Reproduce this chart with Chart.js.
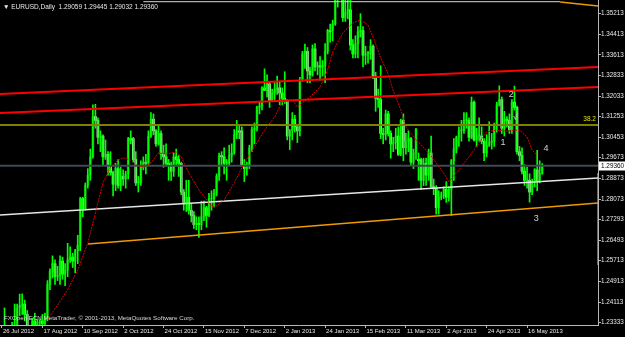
<!DOCTYPE html>
<html><head><meta charset="utf-8">
<script src="https://cdn.jsdelivr.net/npm/chart.js@4/dist/chart.umd.min.js"></script>
<style>html,body{margin:0;padding:0;background:#000;overflow:hidden}#wrap{width:625px;height:337px}</style>
</head><body><div id="wrap"><canvas id="c" width="625" height="337"></canvas></div>
<script>
const chartTitle = "\u25BC EURUSD,Daily  1.29059 1.29445 1.29032 1.29360";
const copyrightText = "FXOpen ECN MetaTrader, \u00A9 2001-2013, MetaQuotes Software Corp.";
const dateLabels = ["26 Jul 2012","17 Aug 2012","10 Sep 2012","2 Oct 2012","24 Oct 2012","15 Nov 2012","7 Dec 2012","2 Jan 2013","24 Jan 2013","15 Feb 2013","11 Mar 2013","2 Apr 2013","24 Apr 2013","16 May 2013"];
const dateLabelBars = [0,16,32,48,64,80,96,112,128,144,160,176,192,208];
const priceTicks = [1.35213,1.34413,1.33613,1.32833,1.32033,1.31253,1.30453,1.29673,1.28873,1.28073,1.27293,1.26493,1.25713,1.24913,1.24113,1.23333];
const lastClose = 1.29360;

const opens = [1.2160,1.2290,1.2310,1.2262,1.2305,1.2210,1.2170,1.2390,1.2400,1.2405,1.2365,1.2280,1.2290,1.2340,1.2320,1.2335,1.2340,1.2330,1.2350,1.2480,
1.2530,1.2560,1.2510,1.2515,1.2570,1.2520,1.2535,1.2575,1.2585,1.2570,1.2610,1.2630,1.2810,1.2770,1.2860,1.2900,1.2970,1.3125,1.3110,1.3045,
1.3050,1.2970,1.2980,1.2935,1.2910,1.2865,1.2925,1.2860,1.2895,1.2885,1.2905,1.3040,1.3040,1.2960,1.2870,1.2870,1.2930,1.2950,1.2945,1.3050,
1.3115,1.3070,1.3020,1.3060,1.2980,1.2970,1.2945,1.2940,1.2915,1.2970,1.2960,1.2945,1.2835,1.2795,1.2815,1.2765,1.2745,1.2710,1.2715,1.2710,
1.2740,1.2775,1.2745,1.2810,1.2810,1.2830,1.2895,1.2975,1.2970,1.2945,1.2945,1.2975,1.2985,1.3055,1.3070,1.3070,1.2940,1.2925,1.2935,1.3005,
1.3075,1.3080,1.3160,1.3165,1.3235,1.3225,1.3250,1.3185,1.3215,1.3230,1.3235,1.3215,1.3195,1.3185,1.3050,1.3070,1.3115,1.3085,1.3070,1.3265,
1.3365,1.3375,1.3300,1.3285,1.3385,1.3315,1.3320,1.3315,1.3320,1.3375,1.3455,1.3455,1.3480,1.3575,1.3580,1.3640,1.3505,1.3525,1.3535,1.3400,
1.3365,1.3405,1.3450,1.3455,1.3360,1.3365,1.3365,1.3395,1.3280,1.3195,1.3190,1.3060,1.3055,1.3135,1.3060,1.3020,1.3025,1.3050,1.2980,1.3110,
1.3005,1.3030,1.3040,1.2950,1.2985,1.2960,1.2960,1.2880,1.2945,1.2900,1.2985,1.2855,1.2850,1.2775,1.2815,1.2820,1.2845,1.2815,1.2845,1.2955,
1.3000,1.3045,1.3070,1.3070,1.3110,1.3110,1.3045,1.3180,1.3035,1.3050,1.3050,1.3030,1.2985,1.3015,1.3025,1.3030,1.3090,1.3170,1.3190,1.3080,
1.3115,1.3110,1.3075,1.3180,1.3160,1.2990,1.2975,1.2915,1.2880,1.2880,1.2835,1.2870,1.2920,1.2875,1.29059];
const highs = [1.2317,1.2390,1.2320,1.2320,1.2335,1.2405,1.2405,1.2443,1.2444,1.2420,1.2380,1.2300,1.2350,1.2370,1.2345,1.2345,1.2365,1.2370,1.2495,1.2540,
1.2590,1.2575,1.2550,1.2590,1.2585,1.2560,1.2638,1.2625,1.2600,1.2615,1.2669,1.2815,1.2815,1.2870,1.2925,1.3000,1.3170,1.3172,1.3120,1.3070,
1.3055,1.3035,1.2990,1.2990,1.2915,1.2945,1.2960,1.2930,1.2920,1.2915,1.3045,1.3070,1.3045,1.2990,1.2895,1.2955,1.2970,1.2980,1.3070,1.3140,
1.3135,1.3075,1.3090,1.3070,1.3015,1.3020,1.2960,1.2950,1.2985,1.3000,1.2975,1.2950,1.2845,1.2880,1.2880,1.2790,1.2760,1.2740,1.2740,1.2800,
1.2800,1.2780,1.2830,1.2840,1.2845,1.2905,1.2985,1.2990,1.3005,1.2960,1.3015,1.3020,1.3075,1.3110,1.3095,1.3085,1.2960,1.2950,1.3015,1.3085,
1.3100,1.3165,1.3180,1.3240,1.3308,1.3285,1.3260,1.3230,1.3255,1.3280,1.3260,1.3235,1.3297,1.3190,1.3075,1.3140,1.3130,1.3095,1.3275,1.3375,
1.3403,1.3390,1.3315,1.3400,1.3405,1.3335,1.3355,1.3340,1.3405,1.3460,1.3480,1.3495,1.3585,1.3605,1.3711,1.3650,1.3580,1.3585,1.3575,1.3420,
1.3435,1.3470,1.3520,1.3470,1.3395,1.3375,1.3420,1.3400,1.3295,1.3230,1.3320,1.3080,1.3150,1.3145,1.3070,1.3045,1.3080,1.3085,1.3115,1.3135,
1.3060,1.3070,1.3045,1.3000,1.3080,1.2985,1.2965,1.2965,1.2965,1.3000,1.3050,1.2885,1.2860,1.2840,1.2835,1.2855,1.2875,1.2855,1.2960,1.3040,
1.3050,1.3085,1.3110,1.3140,1.3140,1.3120,1.3200,1.3185,1.3080,1.3120,1.3085,1.3040,1.3055,1.3105,1.3060,1.3100,1.3180,1.3243,1.3200,1.3145,
1.3125,1.3135,1.3190,1.3242,1.3165,1.3010,1.3005,1.2940,1.2930,1.2905,1.2885,1.2925,1.2995,1.2955,1.29445];
const lows = [1.2130,1.2255,1.2240,1.2240,1.2200,1.2133,1.2165,1.2360,1.2365,1.2340,1.2265,1.2240,1.2270,1.2290,1.2240,1.2290,1.2290,1.2300,1.2340,1.2460,
1.2505,1.2480,1.2495,1.2480,1.2500,1.2475,1.2510,1.2565,1.2545,1.2525,1.2560,1.2610,1.2740,1.2765,1.2850,1.2880,1.2965,1.3080,1.3020,1.2990,
1.2935,1.2960,1.2900,1.2900,1.2820,1.2840,1.2850,1.2840,1.2860,1.2850,1.2885,1.3020,1.2950,1.2860,1.2835,1.2860,1.2920,1.2905,1.2935,1.3045,
1.3055,1.3010,1.3015,1.2960,1.2930,1.2935,1.2880,1.2880,1.2895,1.2935,1.2895,1.2825,1.2765,1.2760,1.2750,1.2720,1.2695,1.2690,1.2661,1.2690,
1.2725,1.2700,1.2740,1.2765,1.2780,1.2820,1.2880,1.2940,1.2905,1.2880,1.2935,1.2950,1.2980,1.3040,1.3040,1.2935,1.2875,1.2900,1.2925,1.2990,
1.3020,1.3070,1.3135,1.3150,1.3225,1.3200,1.3160,1.3185,1.3190,1.3210,1.3170,1.3170,1.3175,1.3035,1.2998,1.3035,1.3065,1.3025,1.3050,1.3260,
1.3310,1.3255,1.3255,1.3280,1.3300,1.3285,1.3265,1.3280,1.3255,1.3365,1.3410,1.3415,1.3475,1.3545,1.3575,1.3490,1.3490,1.3500,1.3380,1.3350,
1.3350,1.3350,1.3430,1.3315,1.3325,1.3330,1.3345,1.3270,1.3145,1.3160,1.3040,1.3020,1.3035,1.3050,1.2965,1.2990,1.3000,1.2975,1.2975,1.2955,
1.2980,1.2990,1.2940,1.2925,1.2960,1.2880,1.2845,1.2860,1.2860,1.2880,1.2850,1.2825,1.2750,1.2750,1.2805,1.2810,1.2795,1.2800,1.2745,1.2880,
1.2985,1.3010,1.3030,1.3060,1.3080,1.3030,1.3040,1.3030,1.3010,1.3030,1.3020,1.2955,1.2970,1.3010,1.3000,1.3010,1.3065,1.3165,1.3060,1.3050,
1.3085,1.3060,1.3060,1.3150,1.2980,1.2955,1.2905,1.2860,1.2850,1.2796,1.2825,1.2855,1.2840,1.2870,1.29032];
const closes = [1.2290,1.2310,1.2262,1.2305,1.2210,1.2170,1.2390,1.2400,1.2405,1.2365,1.2280,1.2290,1.2340,1.2320,1.2335,1.2340,1.2330,1.2350,1.2480,1.2530,
1.2560,1.2510,1.2515,1.2570,1.2520,1.2535,1.2575,1.2585,1.2570,1.2610,1.2630,1.2810,1.2770,1.2860,1.2900,1.2970,1.3125,1.3110,1.3045,1.3050,
1.2970,1.2980,1.2935,1.2910,1.2865,1.2925,1.2860,1.2895,1.2885,1.2905,1.3040,1.3035,1.2960,1.2870,1.2875,1.2930,1.2950,1.2945,1.3050,1.3115,
1.3070,1.3020,1.3060,1.2980,1.2970,1.2945,1.2940,1.2915,1.2970,1.2960,1.2945,1.2835,1.2795,1.2815,1.2765,1.2745,1.2710,1.2715,1.2710,1.2740,
1.2775,1.2745,1.2810,1.2810,1.2830,1.2895,1.2975,1.2970,1.2945,1.2950,1.2975,1.2985,1.3055,1.3070,1.3065,1.2940,1.2925,1.2935,1.3005,1.3075,
1.3080,1.3160,1.3165,1.3235,1.3225,1.3250,1.3185,1.3215,1.3230,1.3235,1.3215,1.3195,1.3185,1.3050,1.3070,1.3115,1.3085,1.3070,1.3265,1.3365,
1.3375,1.3300,1.3285,1.3385,1.3315,1.3320,1.3315,1.3320,1.3375,1.3455,1.3450,1.3480,1.3575,1.3580,1.3640,1.3505,1.3525,1.3535,1.3400,1.3365,
1.3405,1.3450,1.3455,1.3360,1.3365,1.3370,1.3395,1.3280,1.3195,1.3190,1.3060,1.3055,1.3135,1.3060,1.3020,1.3025,1.3050,1.2980,1.3110,1.3005,
1.3030,1.3040,1.2950,1.2985,1.3075,1.2955,1.2880,1.2945,1.2900,1.2985,1.2855,1.2850,1.2775,1.2815,1.2820,1.2845,1.2815,1.2845,1.2955,1.3000,
1.3045,1.3070,1.3075,1.3110,1.3115,1.3045,1.3180,1.3035,1.3050,1.3055,1.3030,1.2985,1.3015,1.3025,1.3030,1.3090,1.3170,1.3190,1.3080,1.3115,
1.3110,1.3075,1.3180,1.3160,1.2990,1.2975,1.2915,1.2880,1.2885,1.2835,1.2870,1.2920,1.2875,1.2906,1.29360];

const maBars = [18,26,30,34,38,40,43,46,48,51,53,56,59,62,65,69,71,74,78,82,84,88,92,96,100,104,108,111,115,117,122,126,129,131,135,139,142,145,147,150,153,155,158,160,164,168,172,175,177,181,185,189,192,196,200,205,208,210,212];
const maValues = [1.2344,1.2459,1.2536,1.2639,1.2793,1.2870,1.2931,1.2958,1.2966,1.2958,1.2939,1.2931,1.2947,1.2985,1.2981,1.2989,1.2970,1.2908,1.2843,1.2793,1.2774,1.2804,1.2870,1.2947,1.3008,1.3073,1.3123,1.3181,1.3188,1.3162,1.3200,1.3238,1.3304,1.3373,1.3446,1.3484,1.3496,1.3476,1.3430,1.3350,1.3288,1.3223,1.3150,1.3085,1.3035,1.2996,1.2947,1.2908,1.2874,1.2920,1.2970,1.3023,1.3066,1.3073,1.3069,1.3073,1.3046,1.2996,1.2977];

const redUpper = [[-0.8,1.32114],[236.2,1.33151]];
const redLower = [[-0.8,1.31385],[236.2,1.32383]];
const fib382 = [[-0.8,1.30924],[236.2,1.30924]];
const whiteTrend = [[-0.8,1.27468],[236.2,1.28889]];
const orangeTrend = [[34.1,1.26354],[236.2,1.27929]];
const orangeTop = [[221.1,1.35647],[236.2,1.35494]];
const whiteTop = [[56,1.35659],[221.1,1.35659]];
const redMarker = [[236.0,1.29081],[236.0,1.25548]];
const waveLabels = [["2",201.7,1.32076],["1",198.5,1.30233],["3",211.6,1.27314],["4",215.5,1.30002],["\u221A",203.3,1.31193]];
const fibLabel = ["38.2",235.3,1.31154];

const BULL = '#0a8f0a', BEAR = '#d4ffd0', WICK = '#00ff00';
const bars = closes.map((c,i)=>i);
const xy = pts => pts.map(p=>({x:p[0],y:p[1]}));
const lineDs = (pts,color,w,extra) => Object.assign({type:'line',data:xy(pts),borderColor:color,borderWidth:w,pointRadius:0,tension:0,clip:0,order:1},extra||{});

Chart.defaults.font.family = "'Liberation Sans', Arial, sans-serif";

const overlay = {
  id:'overlay',
  beforeDraw(ch){const c=ch.ctx;c.save();c.fillStyle='#000';c.fillRect(0,0,ch.width,ch.height);c.restore();},
  afterDraw(ch){
    const c=ch.ctx, xs=ch.scales.x, ys=ch.scales.y;
    c.save();
    c.textBaseline='middle';
    c.fillStyle='#e8e8e8'; c.font="6.5px 'Liberation Sans'"; c.textAlign='left';
    c.fillText(chartTitle,3,7);
    c.fillStyle='#d8d8d8'; c.font="6.2px 'Liberation Sans'";
    c.fillText(copyrightText,4,318);
    c.font="9px 'Liberation Sans'"; c.fillStyle='#d0d0d0'; c.textAlign='center';
    waveLabels.forEach(l=>c.fillText(l[0],xs.getPixelForValue(l[1]),ys.getPixelForValue(l[2])));
    c.font="6.5px 'Liberation Sans'"; c.fillStyle='#e0e000'; c.textAlign='right';
    c.fillText(fibLabel[0],xs.getPixelForValue(fibLabel[1]),ys.getPixelForValue(fibLabel[2]));
    const yb=ys.getPixelForValue(lastClose), xb=ch.chartArea.right+1;
    c.fillStyle='#fff'; c.fillRect(xb,Math.round(yb)-4.5,625-xb,9);
    c.fillStyle='#000'; c.font="6.4px 'Liberation Sans'"; c.textAlign='left';
    c.fillText(lastClose.toFixed(5),xb+2,yb+0.5);
    c.restore();
  }
};

new Chart(document.getElementById('c'),{
  type:'bar',
  data:{datasets:[
    lineDs(fib382,'#7f7f00',2),
    lineDs([[-0.8,lastClose],[236.2,lastClose]],'#414954',2),
    lineDs(redUpper,'#ff0000',2),
    lineDs(redLower,'#ff0000',2),
    lineDs(whiteTrend,'#e6e6e6',1.3),
    lineDs(orangeTrend,'#f09a00',1.5),
    lineDs(orangeTop,'#f09a00',1.5),
    lineDs(whiteTop,'#d8d8d8',1),
    lineDs(redMarker,'#ff2a2a',1),
    {type:'bar',data:bars.map(i=>({x:i,y:[opens[i],closes[i]]})),backgroundColor:bars.map(i=>closes[i]>=opens[i]?BULL:BEAR),barThickness:2,grouped:false,clip:0,order:3},
    {type:'bar',data:bars.map(i=>({x:i,y:[lows[i],highs[i]]})),backgroundColor:WICK,barThickness:1,grouped:false,clip:0,order:2},
    lineDs(maBars.map((b,k)=>[b,maValues[k]]),'#e00000',1,{borderDash:[2,1],order:0})
  ]},
  options:{
    responsive:false,animation:false,devicePixelRatio:1,events:[],
    layout:{padding:0},
    plugins:{legend:{display:false},title:{display:false},tooltip:{enabled:false}},
    scales:{
      x:{type:'linear',min:-0.79,max:236.1,offset:false,
        grid:{display:true,drawOnChartArea:false,drawTicks:true,tickLength:3,color:'#b8b8b8',offset:false},
        border:{display:true,color:'#b8b8b8',width:1},
        afterBuildTicks:s=>{s.ticks=dateLabelBars.map(v=>({value:v}));},
        afterFit:s=>{s.height=12;s.paddingLeft=0;s.paddingRight=0;},
        ticks:{autoSkip:false,maxRotation:0,minRotation:0,align:'start',labelOffset:1,padding:0,color:'#e8e8e8',font:{size:6},
          callback:v=>{const k=dateLabelBars.indexOf(v);return k>=0?dateLabels[k]:'';}}
      },
      y:{type:'linear',position:'right',min:1.23244,max:1.35724,
        grid:{display:true,drawOnChartArea:false,drawTicks:true,tickLength:3,color:'#b8b8b8'},
        border:{display:true,color:'#b8b8b8',width:1},
        afterBuildTicks:s=>{s.ticks=priceTicks.map(v=>({value:v}));},
        afterFit:s=>{s.width=27;s.paddingTop=0;s.paddingBottom=0;},
        ticks:{autoSkip:false,padding:0,color:'#e8e8e8',font:{size:6.3},crossAlign:'near',callback:v=>v.toFixed(5)}
      }
    }
  },
  plugins:[overlay]
});
</script>
</body></html>
